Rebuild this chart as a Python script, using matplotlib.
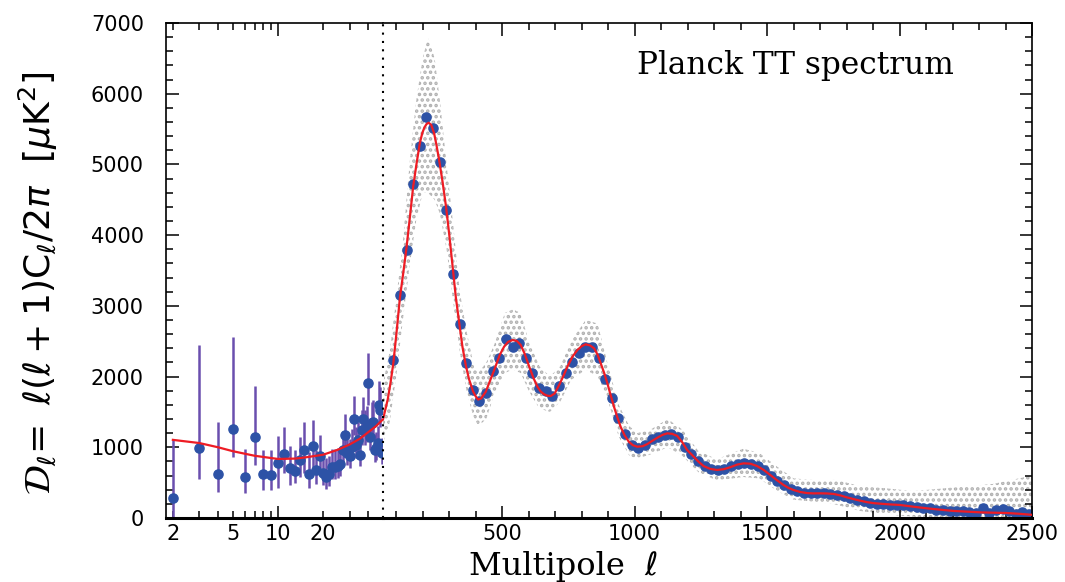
import numpy as np
import matplotlib
matplotlib.use('Agg')
import matplotlib.pyplot as plt
from matplotlib.ticker import FixedLocator, FixedFormatter, MultipleLocator

# low-ell points (log part), one per multipole
low_ell = list(range(2, 50))
low_dl = [278, 985, 627, 1263, 580, 1141, 618, 608, 773, 910,
          712, 669, 820, 966, 627, 1023, 683, 872, 641, 584,
          622, 726, 726, 740, 764, 962, 1174, 924, 877, 1009,
          1400, 1032, 1103, 891, 1244, 1395, 1244, 1291, 1905, 1150,
          1339, 1362, 962, 985, 1056, 1598, 1527, 915]
low_err_lo = [306, 440, 255, 400, 230, 390, 220, 210, 350, 280,
              245, 180, 236, 330, 200, 300, 200, 220, 180, 175,
              175, 170, 170, 170, 165, 190, 220, 180, 170, 185,
              230, 180, 190, 160, 210, 230, 210, 215, 300, 190,
              220, 220, 165, 165, 175, 250, 240, 155]
low_err_hi = [822, 1460, 730, 1290, 400, 720, 350, 360, 380, 380,
              305, 290, 330, 390, 300, 360, 280, 300, 280, 260,
              255, 250, 250, 250, 245, 270, 300, 255, 240, 255,
              320, 250, 260, 220, 290, 320, 290, 295, 430, 260,
              300, 300, 230, 230, 240, 340, 330, 215]

# theory curve, low-ell part
th_low_ell = [2, 3, 4, 5, 7, 10, 13, 15, 20, 25, 30, 35, 40, 45, 50]
th_low_dl = [1105, 1060, 1000, 945, 880, 835, 840, 855, 895, 965, 1040, 1120, 1215, 1300, 1395]

# theory curve, high-ell part
th_ell = [50, 58, 68, 78, 89, 101, 114, 127, 139, 152, 164, 177, 189, 198, 206, 214, 222, 232,
          243, 252, 262, 275, 288, 300, 313, 325, 338, 350, 363, 375, 390, 400, 409, 420, 438,
          455, 470, 490, 507, 522, 539, 555, 570, 585, 602, 618, 633, 645, 658, 670, 683, 698,
          715, 730, 746, 765, 784, 800, 815, 832, 847, 860, 872, 885, 897, 910, 922, 935, 947,
          962, 978, 993, 1010, 1030, 1048, 1066, 1086, 1105, 1123, 1142, 1161, 1180, 1198, 1223,
          1240, 1260, 1285, 1311, 1336, 1361, 1387, 1412, 1437, 1462, 1487, 1512, 1537, 1562,
          1581, 1600, 1625, 1651, 1676, 1701, 1726, 1751, 1776, 1801, 1826, 1851, 1876, 1902,
          1952, 2002, 2052, 2103, 2153, 2203, 2254, 2304, 2354, 2404, 2450, 2500]
th_dl = [1395, 1520, 1680, 1900, 2190, 2620, 3120, 3480, 3830, 4270, 4690, 5020, 5300, 5440, 5520,
         5570, 5590, 5560, 5440, 5270, 5060, 4750, 4400, 4010, 3550, 3120, 2750, 2420, 2150, 1960,
         1790, 1720, 1675, 1690, 1786, 1950, 2093, 2300, 2422, 2490, 2517, 2505, 2446, 2320, 2140,
         1980, 1857, 1790, 1750, 1730, 1725, 1760, 1881, 2000, 2140, 2280, 2376, 2430, 2456, 2440,
         2399, 2310, 2187, 2050, 1905, 1730, 1574, 1420, 1291, 1170, 1079, 1030, 1008, 1015, 1046,
         1090, 1136, 1175, 1197, 1190, 1160, 1070, 962, 867, 800, 735, 695, 679, 690, 718, 755, 773,
         768, 735, 680, 608, 535, 467, 425, 396, 368, 352, 348, 349, 347, 340, 320, 292, 268, 245,
         225, 210, 195, 184, 160, 137, 118, 100, 90, 80, 75, 71, 60, 45]

# binned high-ell points
bin_ell = np.arange(89, 2490, 25)
bin_dl = [2234, 3153, 3790, 4718, 5265, 5666, 5519, 5030, 4355, 3450,
          2743, 2187, 1810, 1654, 1763, 2079, 2258, 2527, 2422, 2479,
          2258, 2046, 1834, 1800, 1730, 1866, 2046, 2210, 2337, 2422,
          2422, 2258, 1965, 1692, 1410, 1190, 1035, 995, 1030, 1112,
          1150, 1174, 1185, 1150, 1010, 900, 800, 730, 700, 675,
          700, 740, 765, 780, 765, 735, 680, 600, 530, 465,
          410, 380, 355, 350, 355, 350, 345, 330, 305, 280,
          255, 235, 215, 205, 195, 190, 185, 180, 170, 150,
          140, 135, 120, 115, 100, 100, 95, 85, 75, 135,
          70, 110, 125, 95, 60, 85, 50]

# spread of the unbinned per-ell spectrum (grey cloud)
cloud_ell = [50, 75, 100, 125, 150, 175, 200, 220, 245, 265, 290, 315, 340, 365, 390, 410, 440,
             470, 510, 540, 570, 600, 640, 680, 720, 760, 815, 860, 900, 940, 980, 1010, 1060,
             1125, 1180, 1240, 1310, 1410, 1470, 1540, 1600, 1700, 1760, 1850, 1950, 2050, 2200,
             2350, 2500]
cloud_lo = [1050, 1350, 2000, 2800, 3550, 4200, 4600, 4600, 4500, 4300, 3800, 3050, 2350, 1800,
            1450, 1300, 1400, 1750, 2050, 2100, 2050, 1800, 1550, 1500, 1650, 1950, 2100, 2000,
            1650, 1150, 880, 840, 900, 1000, 880, 650, 530, 580, 560, 380, 260, 220, 190, 100,
            50, 20, -100, -150, -200]
cloud_hi = [1900, 2350, 3100, 3900, 5000, 5900, 6500, 6800, 6500, 5900, 5000, 4150, 3200, 2650,
            2200, 2050, 2200, 2450, 2900, 2950, 2900, 2500, 2150, 2000, 2150, 2500, 2800, 2750,
            2150, 1600, 1300, 1200, 1250, 1400, 1250, 950, 830, 980, 920, 720, 560, 530, 540, 450,
            420, 380, 430, 480, 600]

blue = '#2d52a6'
purple = '#6a4fae'
red = '#ee1c24'
grey = '#b0b0b0'

plt.rcParams['hatch.linewidth'] = 1.7

fig = plt.figure(figsize=(10.65, 5.82), dpi=100)
W, H = 1065, 582
x0, xs, x1 = 166, 383, 1032
y0, y1 = 518, 23
ax1 = fig.add_axes([x0 / W, (H - y0) / H, (xs - x0) / W, (y0 - y1) / H])
ax2 = fig.add_axes([xs / W, (H - y0) / H, (x1 - xs) / W, (y0 - y1) / H])

# left panel: log scale
ax1.set_xscale('log')
ax1.set_xlim(1.8, 50)
ax1.set_ylim(0, 7000)
ax1.errorbar(low_ell, low_dl, yerr=[low_err_lo, low_err_hi], fmt='o', color=blue,
             ecolor=purple, elinewidth=1.8, capsize=0, ms=6.6, zorder=2)
ax1.plot(th_low_ell, th_low_dl, color=red, lw=1.6, zorder=3)

# right panel: linear scale
ax2.set_xlim(50, 2500)
ax2.set_ylim(0, 7000)
ax2.fill_between(cloud_ell, cloud_lo, cloud_hi, facecolor='none', edgecolor=grey,
                 hatch='...', lw=0, zorder=1)
ax2.plot(bin_ell, bin_dl, 'o', color=blue, ms=6.6, zorder=2)
ax2.plot(th_ell, th_dl, color=red, lw=1.6, zorder=3)
ax2.axvline(50, color='k', ls=(0, (1, 3)), lw=1.5, clip_on=False, zorder=4)

for ax in (ax1, ax2):
    for s in ax.spines.values():
        s.set_linewidth(1.2)
    ax.spines['bottom'].set_linewidth(2.2)
    ax.yaxis.set_major_locator(MultipleLocator(1000))
    ax.yaxis.set_minor_locator(MultipleLocator(200))
    ax.tick_params(which='both', direction='in', top=True, labelsize=15, width=1.1)
    ax.tick_params(which='major', length=9)
    ax.tick_params(which='minor', length=5)
    ax.tick_params(axis='y', which='both', pad=16)
    ax.tick_params(axis='x', which='both', pad=4)

ax1.spines['right'].set_visible(False)
ax2.spines['left'].set_visible(False)
ax1.tick_params(which='both', right=False)
ax2.tick_params(which='both', left=False, right=True, labelleft=False)

ax1.xaxis.set_major_locator(FixedLocator([10]))
ax1.xaxis.set_major_formatter(FixedFormatter(['10']))
ax1.xaxis.set_minor_locator(FixedLocator([2, 3, 4, 5, 6, 7, 8, 9, 20, 30, 40]))
ax1.xaxis.set_minor_formatter(FixedFormatter(['2', '', '', '5', '', '', '', '', '20', '', '']))
ax1.tick_params(axis='x', which='minor', labelsize=15)

ax2.xaxis.set_major_locator(FixedLocator([500, 1000, 1500, 2000, 2500]))
ax2.xaxis.set_minor_locator(MultipleLocator(100))

fig.text(564 / W, 1 - 575 / H, 'Multipole  ℓ', family=['DejaVu Serif', 'DejaVu Sans'],
         fontsize=23, ha='center', va='baseline')
fig.text(38 / W, 1 - 283 / H,
         r'$\mathcal{D}_{\ell}\!=\ \ell(\ell+1)\mathrm{C}_{\ell}/2\pi\ \ [\mu\mathrm{K}^2]$',
         fontsize=26, rotation=90, ha='center', va='center')
ax2.text(0.636, 0.915, 'Planck TT spectrum', transform=ax2.transAxes, family='DejaVu Serif',
         fontsize=22.5, ha='center', va='center')

fig.savefig('out.png', dpi=100)
